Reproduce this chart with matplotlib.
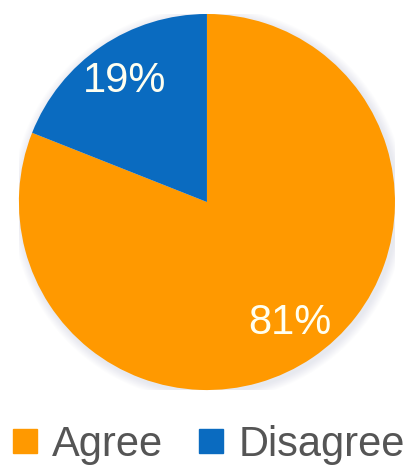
import matplotlib.pyplot as plt
from matplotlib.lines import Line2D

labels = ['Agree', 'Disagree']
values = [81, 19]
colors = ['#FF9900', '#0A6BC0']

plt.rcParams['font.family'] = ['Liberation Sans', 'DejaVu Sans']

fig = plt.figure(figsize=(4.11, 4.66), dpi=100)
ax = fig.add_axes([0.046, 0.163, 0.915, 0.807])

# faint shadow around the pie
for i in range(8):
    r = 1.0 + 0.006 * (i + 1)
    ax.add_patch(plt.Circle((0.01, -0.012), r, color='#8899aa', alpha=0.025, lw=0, zorder=0))

wedges, texts, autotexts = ax.pie(values, colors=colors, startangle=90, counterclock=False,
                                  autopct='%d%%', pctdistance=0.78,
                                  textprops={'color': '#FFFFF0', 'fontsize': 30})
for w in wedges:
    w.set_zorder(2)
for t in autotexts:
    t.set_zorder(3)
ax.set_xlim(-1, 1)
ax.set_ylim(-1, 1)
ax.set_aspect('equal')
ax.axis('off')

handles = [Line2D([], [], marker='s', linestyle='none', markersize=17, color=c) for c in colors]
fig.legend(handles, labels, loc='center', bbox_to_anchor=(0.505, 0.046), ncol=2, frameon=False,
           fontsize=30, labelcolor='#555555', handletextpad=0.3, columnspacing=0.8,
           handlelength=0.7, borderaxespad=0)

fig.savefig('out.png', dpi=100)
